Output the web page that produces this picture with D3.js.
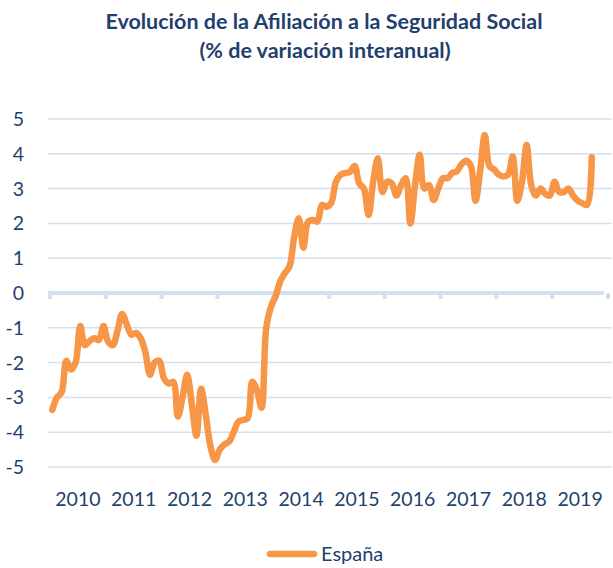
<!DOCTYPE html>
<html>
<head>
<meta charset="utf-8">
<script src="https://cdn.jsdelivr.net/npm/d3@7"></script>
<style>
  body { margin: 0; background: #fff; }
  svg { display: block; }
</style>
</head>
<body>
<svg id="chart" width="613" height="568"></svg>
<script>
// yearly categories on the x axis
const years = ["2010", "2011", "2012", "2013", "2014", "2015", "2016", "2017", "2018", "2019"];
const yTicks = [-5, -4, -3, -2, -1, 0, 1, 2, 3, 4, 5];

// monthly % y/y change, Jan 2010 onward
const espana = [
  -3.36, -3.0, -2.85, -1.95, -2.2, -2.0, -0.95, -1.5, -1.38, -1.3, -1.35, -0.95,
  -1.4, -1.5, -1.1, -0.6, -0.9, -1.2, -1.15, -1.3, -1.7, -2.35, -2.0, -1.95,
  -2.45, -2.6, -2.55, -3.55, -3.0, -2.35, -3.2, -4.1, -2.75, -3.5, -4.4, -4.8,
  -4.5, -4.35, -4.27, -4.0, -3.7, -3.65, -3.6, -2.55, -2.8, -3.3, -1.0, -0.4,
  -0.1, 0.33, 0.57, 0.76, 1.6, 2.15, 1.3, 2.05, 2.1, 2.05, 2.53, 2.48,
  2.6, 3.2, 3.4, 3.45, 3.48, 3.65, 3.15, 3.0, 2.24, 3.2, 3.87, 2.9,
  3.2, 3.15, 2.8, 3.1, 3.3, 2.0, 3.1, 3.97, 3.0, 3.1, 2.67, 3.0,
  3.3, 3.3, 3.45, 3.5, 3.7, 3.8, 3.65, 2.65, 3.5, 4.54, 3.65, 3.55,
  3.4, 3.35, 3.4, 3.92, 2.65, 3.2, 4.25, 3.1, 2.8, 3.0, 2.85, 2.8,
  3.2, 2.9, 2.9, 3.0, 2.8, 2.65, 2.58, 2.53, 3.9
];

const navy = "#1f3f6e";
const orange = "#f79646";
const font = "Lato, 'Open Sans', sans-serif";

const svg = d3.select("#chart");
const plotLeft = 50, plotRight = 608, plotTop = 119, plotBottom = 467;

const xBand = d3.scaleBand(years, [plotLeft, plotRight]);
const xMonth = d3.scaleLinear([0, years.length * 12], [plotLeft, plotRight]);
const y = d3.scaleLinear([-5, 5], [plotBottom, plotTop]);

// title
const title = svg.append("text")
  .attr("text-anchor", "middle")
  .attr("font-family", font)
  .attr("font-weight", "bold")
  .attr("font-size", 21.5)
  .attr("fill", navy);
title.append("tspan").attr("x", 324).attr("y", 29).text("Evolución de la Afiliación a la Seguridad Social");
title.append("tspan").attr("x", 325).attr("y", 58).text("(% de variación interanual)");

// gridlines
svg.append("g")
  .selectAll("line")
  .data(yTicks.filter(d => d !== 0))
  .join("line")
  .attr("x1", plotLeft - 2)
  .attr("x2", 612)
  .attr("y1", d => y(d))
  .attr("y2", d => y(d))
  .attr("stroke", "#d5dff0")
  .attr("stroke-width", 1.5);

// zero axis with category ticks
svg.append("line")
  .attr("x1", plotLeft - 2)
  .attr("x2", 604)
  .attr("y1", y(0))
  .attr("y2", y(0))
  .attr("stroke", "#d3e0f2")
  .attr("stroke-width", 4);

svg.append("g")
  .selectAll("line")
  .data(years.map(d => xBand(d)).concat([plotRight]))
  .join("line")
  .attr("x1", d => d)
  .attr("x2", d => d)
  .attr("y1", y(0))
  .attr("y2", y(0) + 6)
  .attr("stroke", "#d3e0f2")
  .attr("stroke-width", 4);

// y axis labels
svg.append("g")
  .selectAll("text")
  .data(yTicks)
  .join("text")
  .attr("x", 24)
  .attr("y", d => y(d) + 7)
  .attr("text-anchor", "end")
  .attr("font-family", font)
  .attr("font-size", 19.5)
  .attr("fill", navy)
  .text(d => d);

// x axis labels
svg.append("g")
  .selectAll("text")
  .data(years)
  .join("text")
  .attr("x", d => xBand(d) + xBand.bandwidth() / 2)
  .attr("y", 506)
  .attr("text-anchor", "middle")
  .attr("font-family", font)
  .attr("font-size", 19.5)
  .attr("fill", navy)
  .text(d => d);

// the series
const line = d3.line()
  .curve(d3.curveCatmullRom.alpha(0.5))
  .x((d, i) => xMonth(i + 0.5))
  .y(d => y(d));

svg.append("path")
  .attr("d", line(espana))
  .attr("fill", "none")
  .attr("stroke", orange)
  .attr("stroke-width", 6.5)
  .attr("stroke-linejoin", "round")
  .attr("stroke-linecap", "round");

// legend
svg.append("line")
  .attr("x1", 270)
  .attr("x2", 314)
  .attr("y1", 554)
  .attr("y2", 554)
  .attr("stroke", orange)
  .attr("stroke-width", 6.5)
  .attr("stroke-linecap", "round");

svg.append("text")
  .attr("x", 321)
  .attr("y", 561)
  .attr("font-family", font)
  .attr("font-size", 20)
  .attr("fill", navy)
  .text("España");
</script>
</body>
</html>
